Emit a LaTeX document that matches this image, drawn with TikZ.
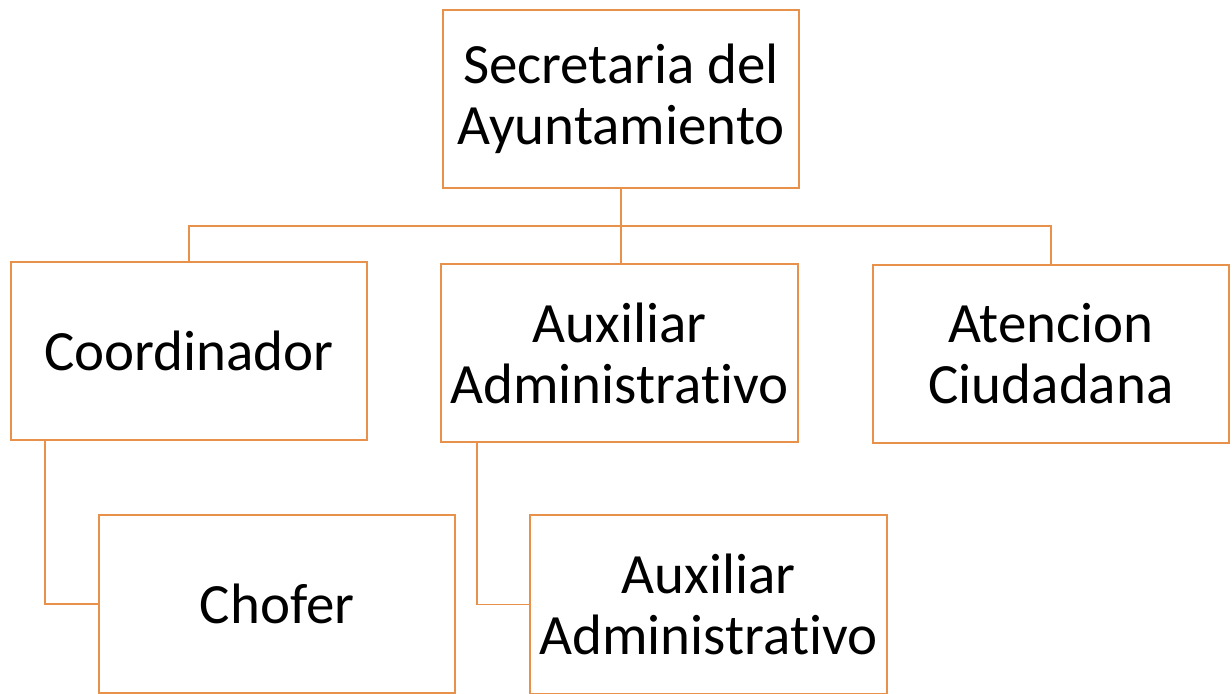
\documentclass[tikz,border=0pt]{standalone}
\usepackage{fontspec}
\setmainfont{Carlito}[Ligatures=NoCommon]
\usetikzlibrary{positioning}
\definecolor{orgline}{RGB}{232,145,75}

\begin{document}
\begin{tikzpicture}[x=0.025cm, y=-0.025cm, line width=1.4pt,
    unit/.style={draw=orgline, line width=1.4pt, minimum width=8.9cm, minimum height=4.45cm,
                 inner sep=0pt, align=center, font=\fontsize{40.5}{43.4}\selectfont},
    link/.style={draw=orgline, line width=1.4pt}]
    \useasboundingbox (0,0) rectangle (1232,694);

    % Nodes {sec, coord, aux1, aten, chofer, aux2}
    \node [unit]    (sec)    at (621,99)      {Secretaria del\\Ayuntamiento};
    \node [unit]    (coord)  at (189,351)     {Coordinador};
    \node [unit]    (aux1)   at (619.5,353)   {Auxiliar\\Administrativo};
    \node [unit]    (aten)   at (1051,354)    {Atencion\\Ciudadana};
    \node [unit]    (chofer) at (277,604)     {Chofer};
    \node [unit]    (aux2)   at (708.5,604.5) {Auxiliar\\Administrativo};
    \coordinate     (bus)    at (621,226);

    % Paths
    \path [link] (sec.south) -- (bus);
    \path [link] (coord.north) |- (bus) -| (aten.north);
    \path [link] (bus) -- (bus |- aux1.north);
    \path [link] ([xshift=0.875cm]coord.south west) |- (chofer.west);
    \path [link] ([xshift=0.925cm]aux1.south west) |- (aux2.west);
\end{tikzpicture}
\end{document}
